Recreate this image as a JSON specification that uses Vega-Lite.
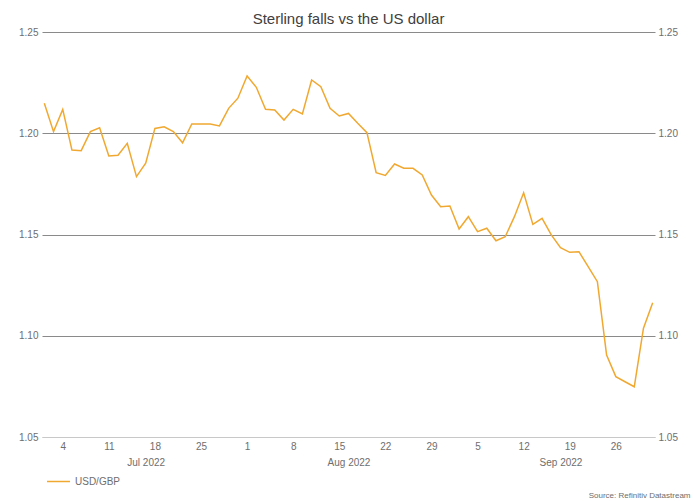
{
  "$schema": "https://vega.github.io/schema/vega-lite/v6.json",
  "autosize": {"type": "none"},
  "padding": {"left": 42, "top": 32, "right": 39, "bottom": 64},
  "width": 613,
  "height": 405,
  "background": "white",
  "config": {
    "font": "Liberation Sans",
    "view": {"stroke": null},
    "axis": {"labelFont": "Liberation Sans", "labelColor": "#6e6e6e", "labelFontSize": 10, "ticks": false, "domain": false, "grid": false}
  },
  "title": {"text": "Sterling falls vs the US dollar", "fontSize": 15, "fontWeight": "normal", "color": "#404040", "anchor": "middle", "baseline": "bottom", "offset": 7, "dy": 22},
  "data": {"values": [
    {"date": "2022-06-30", "rate": 1.2148, "series": "USD/GBP"},
    {"date": "2022-07-01", "rate": 1.2008, "series": "USD/GBP"},
    {"date": "2022-07-04", "rate": 1.2118, "series": "USD/GBP"},
    {"date": "2022-07-05", "rate": 1.1917, "series": "USD/GBP"},
    {"date": "2022-07-06", "rate": 1.1914, "series": "USD/GBP"},
    {"date": "2022-07-07", "rate": 1.2008, "series": "USD/GBP"},
    {"date": "2022-07-08", "rate": 1.2027, "series": "USD/GBP"},
    {"date": "2022-07-11", "rate": 1.1888, "series": "USD/GBP"},
    {"date": "2022-07-12", "rate": 1.1891, "series": "USD/GBP"},
    {"date": "2022-07-13", "rate": 1.1950, "series": "USD/GBP"},
    {"date": "2022-07-14", "rate": 1.1786, "series": "USD/GBP"},
    {"date": "2022-07-15", "rate": 1.1852, "series": "USD/GBP"},
    {"date": "2022-07-18", "rate": 1.2024, "series": "USD/GBP"},
    {"date": "2022-07-19", "rate": 1.2032, "series": "USD/GBP"},
    {"date": "2022-07-20", "rate": 1.2008, "series": "USD/GBP"},
    {"date": "2022-07-21", "rate": 1.1953, "series": "USD/GBP"},
    {"date": "2022-07-22", "rate": 1.2046, "series": "USD/GBP"},
    {"date": "2022-07-25", "rate": 1.2046, "series": "USD/GBP"},
    {"date": "2022-07-26", "rate": 1.2046, "series": "USD/GBP"},
    {"date": "2022-07-27", "rate": 1.2036, "series": "USD/GBP"},
    {"date": "2022-07-28", "rate": 1.2123, "series": "USD/GBP"},
    {"date": "2022-07-29", "rate": 1.2173, "series": "USD/GBP"},
    {"date": "2022-08-01", "rate": 1.2283, "series": "USD/GBP"},
    {"date": "2022-08-02", "rate": 1.2227, "series": "USD/GBP"},
    {"date": "2022-08-03", "rate": 1.2118, "series": "USD/GBP"},
    {"date": "2022-08-04", "rate": 1.2115, "series": "USD/GBP"},
    {"date": "2022-08-05", "rate": 1.2065, "series": "USD/GBP"},
    {"date": "2022-08-08", "rate": 1.2118, "series": "USD/GBP"},
    {"date": "2022-08-09", "rate": 1.2095, "series": "USD/GBP"},
    {"date": "2022-08-10", "rate": 1.2263, "series": "USD/GBP"},
    {"date": "2022-08-11", "rate": 1.2230, "series": "USD/GBP"},
    {"date": "2022-08-12", "rate": 1.2123, "series": "USD/GBP"},
    {"date": "2022-08-15", "rate": 1.2085, "series": "USD/GBP"},
    {"date": "2022-08-16", "rate": 1.2098, "series": "USD/GBP"},
    {"date": "2022-08-17", "rate": 1.2049, "series": "USD/GBP"},
    {"date": "2022-08-18", "rate": 1.2003, "series": "USD/GBP"},
    {"date": "2022-08-19", "rate": 1.1805, "series": "USD/GBP"},
    {"date": "2022-08-22", "rate": 1.1792, "series": "USD/GBP"},
    {"date": "2022-08-23", "rate": 1.1848, "series": "USD/GBP"},
    {"date": "2022-08-24", "rate": 1.1827, "series": "USD/GBP"},
    {"date": "2022-08-25", "rate": 1.1827, "series": "USD/GBP"},
    {"date": "2022-08-26", "rate": 1.1794, "series": "USD/GBP"},
    {"date": "2022-08-29", "rate": 1.1695, "series": "USD/GBP"},
    {"date": "2022-08-30", "rate": 1.1637, "series": "USD/GBP"},
    {"date": "2022-08-31", "rate": 1.1641, "series": "USD/GBP"},
    {"date": "2022-09-01", "rate": 1.1527, "series": "USD/GBP"},
    {"date": "2022-09-02", "rate": 1.1588, "series": "USD/GBP"},
    {"date": "2022-09-05", "rate": 1.1514, "series": "USD/GBP"},
    {"date": "2022-09-06", "rate": 1.1531, "series": "USD/GBP"},
    {"date": "2022-09-07", "rate": 1.1469, "series": "USD/GBP"},
    {"date": "2022-09-08", "rate": 1.1489, "series": "USD/GBP"},
    {"date": "2022-09-09", "rate": 1.1588, "series": "USD/GBP"},
    {"date": "2022-09-12", "rate": 1.1706, "series": "USD/GBP"},
    {"date": "2022-09-13", "rate": 1.1550, "series": "USD/GBP"},
    {"date": "2022-09-14", "rate": 1.1580, "series": "USD/GBP"},
    {"date": "2022-09-15", "rate": 1.1498, "series": "USD/GBP"},
    {"date": "2022-09-16", "rate": 1.1435, "series": "USD/GBP"},
    {"date": "2022-09-19", "rate": 1.1412, "series": "USD/GBP"},
    {"date": "2022-09-20", "rate": 1.1415, "series": "USD/GBP"},
    {"date": "2022-09-21", "rate": 1.1341, "series": "USD/GBP"},
    {"date": "2022-09-22", "rate": 1.1267, "series": "USD/GBP"},
    {"date": "2022-09-23", "rate": 1.0905, "series": "USD/GBP"},
    {"date": "2022-09-26", "rate": 1.0798, "series": "USD/GBP"},
    {"date": "2022-09-27", "rate": 1.0773, "series": "USD/GBP"},
    {"date": "2022-09-28", "rate": 1.0748, "series": "USD/GBP"},
    {"date": "2022-09-29", "rate": 1.1037, "series": "USD/GBP"},
    {"date": "2022-09-30", "rate": 1.1163, "series": "USD/GBP"}
  ]},
  "layer": [
    {
      "mark": {"type": "line", "strokeWidth": 1.5},
      "encoding": {
        "x": {"field": "date", "type": "ordinal", "sort": null,
          "scale": {"type": "point", "padding": 0.25},
          "axis": {"title": null, "labelAngle": 0, "domain": true, "domainColor": "#c8c8c8", "domainWidth": 1, "labelPadding": 4,
            "values": ["2022-07-04","2022-07-11","2022-07-18","2022-07-25","2022-08-01","2022-08-08","2022-08-15","2022-08-22","2022-08-29","2022-09-05","2022-09-12","2022-09-19","2022-09-26"],
            "labelExpr": "toNumber(slice(datum.value, 8, 10))"}},
        "y": {"field": "rate", "type": "quantitative",
          "scale": {"domain": [1.05, 1.25], "zero": false, "nice": false},
          "axis": {"title": null, "orient": "left", "values": [1.05, 1.1, 1.15, 1.2, 1.25], "format": ".2f", "labelPadding": 4,
            "grid": true, "gridWidth": 1.2,
            "gridColor": {"condition": {"test": "datum.value === 1.05", "value": "#c8c8c8"}, "value": "#8a8a8a"}}},
        "color": {"field": "series", "type": "nominal",
          "scale": {"range": ["#f0a830"]},
          "legend": {"title": null, "orient": "none", "legendX": 4, "legendY": 437, "symbolType": "stroke", "symbolSize": 529, "symbolStrokeWidth": 1.5, "labelFontSize": 10, "labelColor": "#6e6e6e", "labelFont": "Liberation Sans"}}
      }
    },
    {
      "mark": {"type": "line", "opacity": 0},
      "encoding": {
        "x": {"field": "date", "type": "ordinal", "sort": null,
          "axis": {"orient": "bottom", "offset": 16, "labelAngle": 0, "labelPadding": 4,
            "values": ["2022-07-15","2022-08-16","2022-09-16"],
            "labelExpr": "utcFormat(toDate(datum.value), '%b %Y')",
            "title": "Source: Refinitiv Datastream", "titleFontSize": 8, "titleFontWeight": "normal", "titleColor": "#6e6e6e",
            "titleAnchor": "end", "titleAlign": "right", "titleX": 648, "titleY": 44, "titleBaseline": "alphabetic"}},
        "y": {"field": "rate", "type": "quantitative",
          "axis": {"title": null, "orient": "right", "values": [1.05, 1.1, 1.15, 1.2, 1.25], "format": ".2f", "labelPadding": 3}}
      }
    }
  ],
  "resolve": {"axis": {"x": "independent", "y": "independent"}}
}
